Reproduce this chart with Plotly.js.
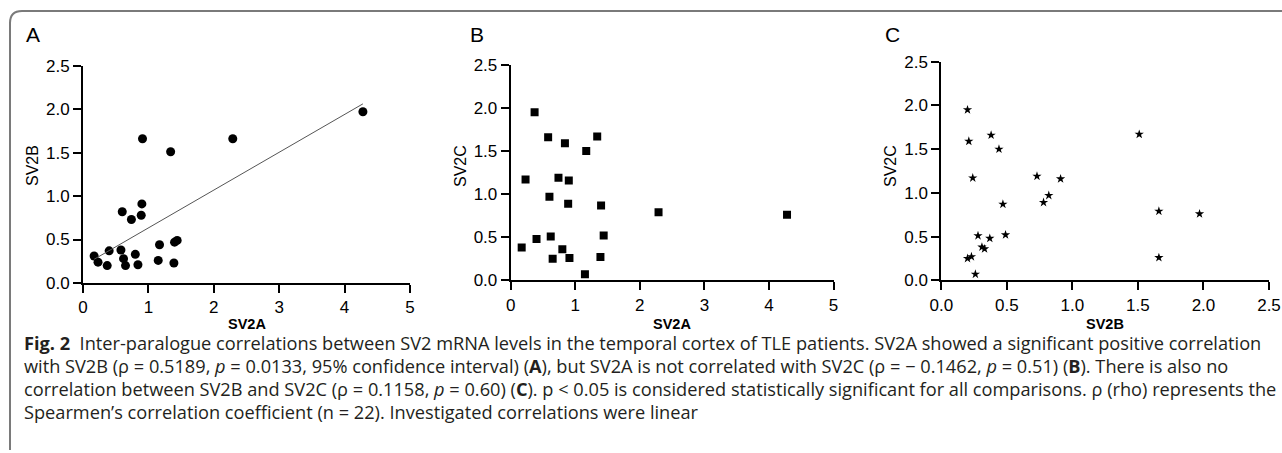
<!DOCTYPE html>
<html>
<head>
<meta charset="utf-8">
<script src="https://cdn.plot.ly/plotly-3.0.1.min.js"></script>
<style>html,body{margin:0;padding:0;background:#fff;}#chart{width:1282px;height:453px;}</style>
</head>
<body>
<div id="chart"></div>
<script>
// Per-patient mRNA levels (n = 22)
const sv2a = [0.17, 0.23, 0.37, 0.40, 0.58, 0.60, 0.62, 0.65, 0.74, 0.80, 0.84, 0.89, 0.90, 0.91, 1.15, 1.17, 1.34, 1.39, 1.40, 1.44, 2.29, 4.28];
const sv2b = [0.31, 0.24, 0.20, 0.37, 0.38, 0.82, 0.28, 0.20, 0.73, 0.33, 0.21, 0.78, 0.91, 1.66, 0.26, 0.44, 1.51, 0.23, 0.47, 0.49, 1.66, 1.97];
const sv2c = [0.38, 1.17, 1.95, 0.48, 1.66, 0.97, 0.51, 0.25, 1.19, 0.36, 1.59, 0.89, 1.16, 0.26, 0.07, 1.50, 1.67, 0.27, 0.87, 0.52, 0.79, 0.76];

const panelLabels = ["A", "B", "C"];
const axisTitlesX = ["SV2A", "SV2A", "SV2B"];
const axisTitlesY = ["SV2B", "SV2C", "SV2C"];
const captionLines = [
  "<b>Fig. 2</b>  Inter-paralogue correlations between SV2 mRNA levels in the temporal cortex of TLE patients. SV2A showed a significant positive correlation",
  "with SV2B (ρ = 0.5189, <i>p</i> = 0.0133, 95% confidence interval) (<b>A</b>), but SV2A is not correlated with SV2C (ρ = − 0.1462, <i>p</i> = 0.51) (<b>B</b>). There is also no",
  "correlation between SV2B and SV2C (ρ = 0.1158, <i>p</i> = 0.60) (<b>C</b>). p &lt; 0.05 is considered statistically significant for all comparisons. ρ (rho) represents the",
  "Spearmen’s correlation coefficient (n = 22). Investigated correlations were linear"
];

// least-squares fit for panel A
function fit(xs, ys) {
  const n = xs.length;
  const mx = xs.reduce((a, b) => a + b, 0) / n;
  const my = ys.reduce((a, b) => a + b, 0) / n;
  let sxy = 0, sxx = 0;
  for (let i = 0; i < n; i++) { sxy += (xs[i] - mx) * (ys[i] - my); sxx += (xs[i] - mx) ** 2; }
  const m = sxy / sxx, c = my - m * mx;
  const x0 = Math.min(...xs), x1 = Math.max(...xs);
  return { x: [x0, x1], y: [m * x0 + c, m * x1 + c] };
}
const lineA = fit(sv2a, sv2b);

const W = 1282, H = 453;
const px = v => v / W;
const py = v => 1 - v / H;

const traces = [
  { x: sv2a, y: sv2b, type: "scatter", mode: "markers", xaxis: "x", yaxis: "y",
    marker: { symbol: "circle", size: 9, color: "#000" } },
  { x: lineA.x, y: lineA.y, type: "scatter", mode: "lines", xaxis: "x", yaxis: "y",
    line: { color: "#555", width: 1 } },
  { x: sv2a, y: sv2c, type: "scatter", mode: "markers", xaxis: "x2", yaxis: "y2",
    marker: { symbol: "square", size: 8, color: "#000" } },
  { x: sv2b, y: sv2c, type: "scatter", mode: "markers", xaxis: "x3", yaxis: "y3",
    marker: { symbol: "star", size: 7, color: "#000", line: { width: 0 } } }
];

const tickFont = { family: "Liberation Sans, Arial, sans-serif", size: 17, color: "#000" };
function ax(extra) {
  return Object.assign({
    showline: true, linewidth: 2, linecolor: "#000", mirror: false,
    ticks: "outside", ticklen: 8, tickwidth: 2, tickcolor: "#000",
    showgrid: false, zeroline: false, tickfont: tickFont, fixedrange: true
  }, extra);
}

const layout = {
  width: W, height: H,
  margin: { l: 0, r: 0, t: 0, b: 0 },
  paper_bgcolor: "#fff", plot_bgcolor: "#fff",
  showlegend: false,
  xaxis:  ax({ domain: [px(83), px(410)], range: [0, 5], dtick: 1, tick0: 0, anchor: "y" }),
  yaxis:  ax({ domain: [py(283), py(65.7)], range: [0, 2.5], dtick: 0.5, tick0: 0, tickformat: ".1f", anchor: "x" }),
  xaxis2: ax({ domain: [px(510.7), px(833.5)], range: [0, 5], dtick: 1, tick0: 0, anchor: "y2" }),
  yaxis2: ax({ domain: [py(280.3), py(65)], range: [0, 2.5], dtick: 0.5, tick0: 0, tickformat: ".1f", anchor: "x2" }),
  xaxis3: ax({ domain: [px(941.3), px(1269)], range: [0, 2.5], dtick: 0.5, tick0: 0, tickformat: ".1f", anchor: "y3" }),
  yaxis3: ax({ domain: [py(280.3), py(61.7)], range: [0, 2.5], dtick: 0.5, tick0: 0, tickformat: ".1f", anchor: "x3" }),
  shapes: [
    { type: "path", xref: "paper", yref: "paper",
      path: `M ${px(10)} ${py(450)} L ${px(10)} ${py(23)} Q ${px(10)} ${py(11)} ${px(22)} ${py(11)} L ${px(1282)} ${py(11)}`,
      line: { color: "#7a7a7a", width: 2 } }
  ],
  annotations: []
};

const labelX = [24, 468, 883];
panelLabels.forEach((t, i) => {
  layout.annotations.push({ text: t, xref: "paper", yref: "paper", x: px(labelX[i]), y: py(35),
    xanchor: "left", yanchor: "middle", showarrow: false,
    font: { family: "Liberation Sans, Arial, sans-serif", size: 21, color: "#000" } });
});
const xa = ["x", "x2", "x3"];
const yTitleX = [32, 460, 890];
for (let i = 0; i < 3; i++) {
  layout.annotations.push({ text: "<b>" + axisTitlesX[i] + "</b>", xref: xa[i] + " domain", yref: "paper",
    x: 0.5, y: py(324), xanchor: "center", yanchor: "middle", showarrow: false,
    font: { family: "Liberation Sans, Arial, sans-serif", size: 14.5, color: "#000" } });
  layout.annotations.push({ text: axisTitlesY[i], xref: "paper", yref: "paper",
    x: px(yTitleX[i]), y: py(166), textangle: -90, xanchor: "center", yanchor: "middle", showarrow: false,
    font: { family: "Liberation Sans, Arial, sans-serif", size: 16, color: "#000" } });
}
const capY = [343, 366, 389, 412];
captionLines.forEach((t, i) => {
  layout.annotations.push({ text: t, xref: "paper", yref: "paper", x: px(22), y: py(capY[i]),
    xanchor: "left", yanchor: "middle", showarrow: false, align: "left",
    font: { family: "Open Sans, sans-serif", size: 18.2, color: "#231f20" } });
});

Plotly.newPlot("chart", traces, layout, { displayModeBar: false, staticPlot: true });
</script>
</body>
</html>
